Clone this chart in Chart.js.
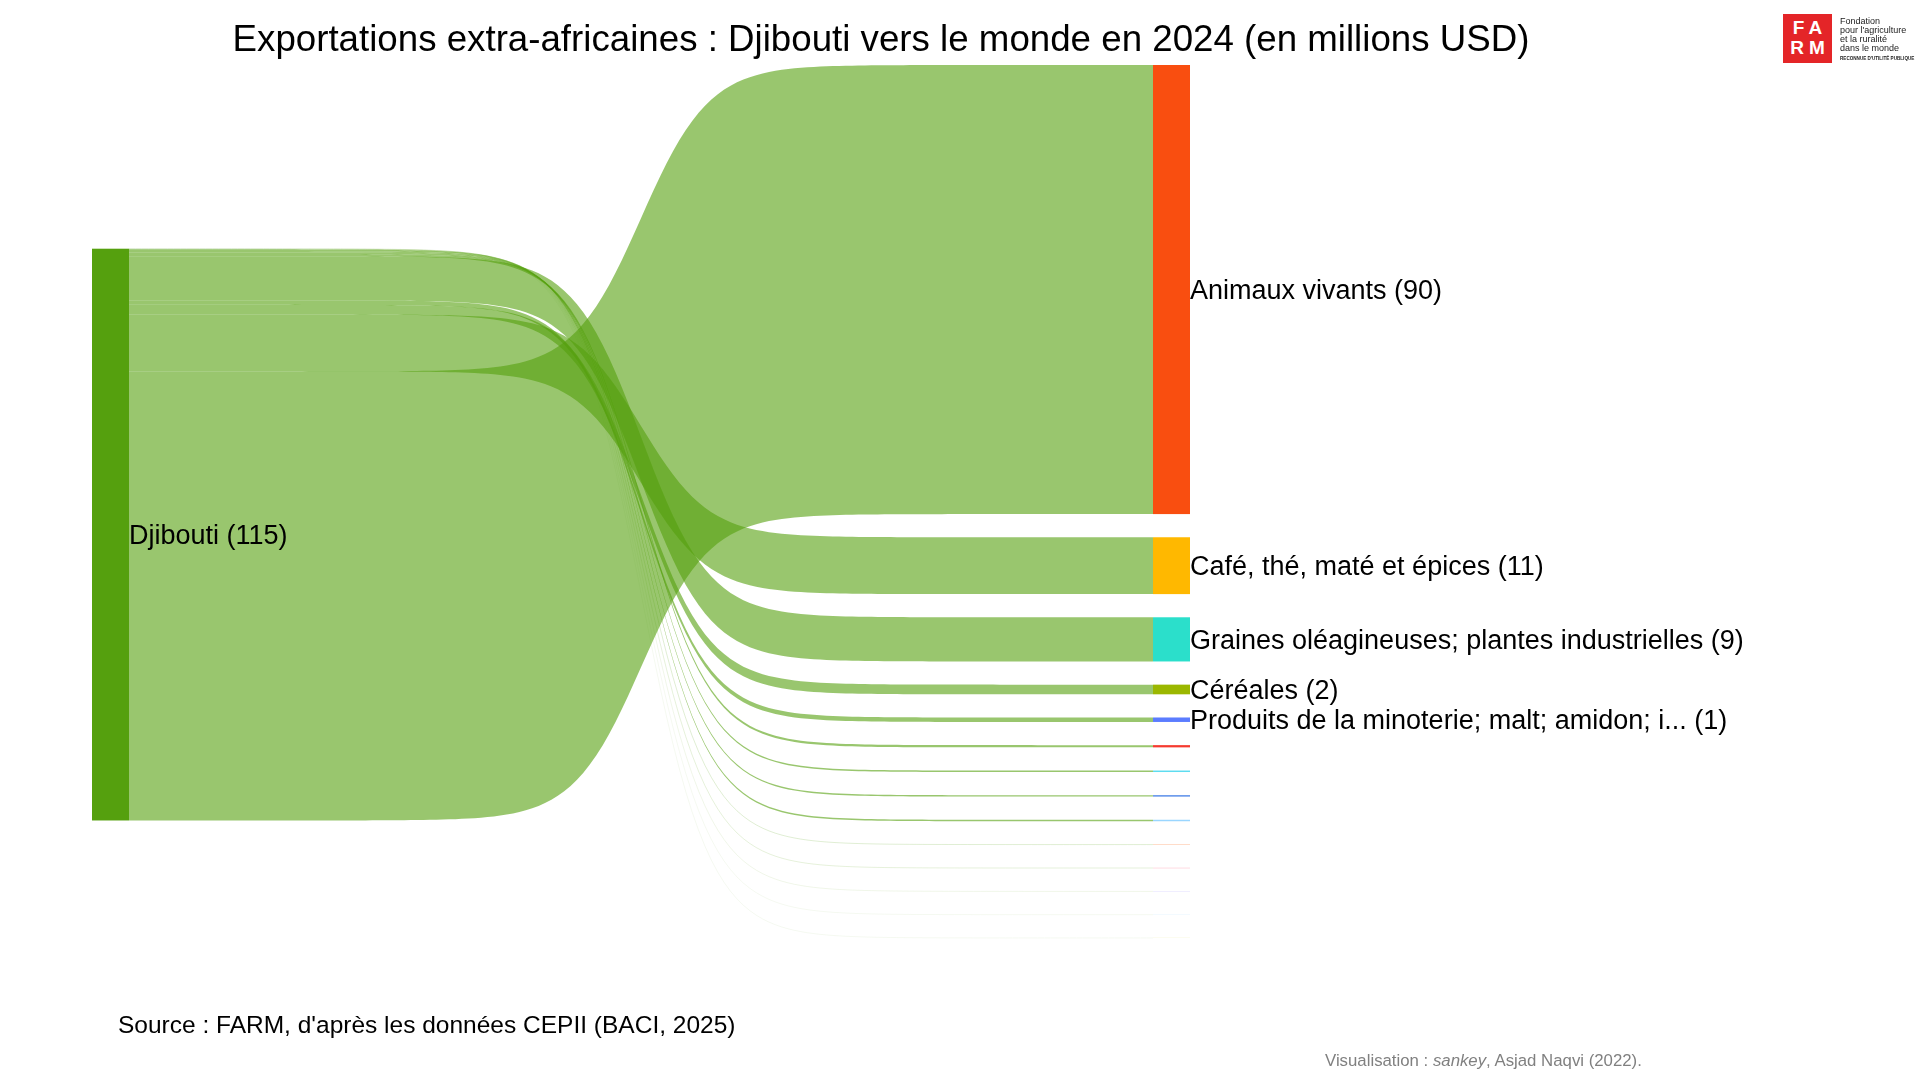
<!DOCTYPE html>
<html lang="fr">
<head>
<meta charset="utf-8">
<title>Exportations extra-africaines : Djibouti vers le monde en 2024</title>
<script src="https://cdn.jsdelivr.net/npm/chart.js@4.4.1/dist/chart.umd.min.js"></script>
<style>
  html, body { margin: 0; padding: 0; background: #fff; overflow: hidden; }
  #wrap { position: relative; width: 1920px; height: 1080px; font-family: "Liberation Sans", Arial, sans-serif; }
  #c { position: absolute; left: 0; top: 0; }
  .txt { position: absolute; white-space: nowrap; color: #000; line-height: 1; }
  #title  { left: 881px; top: 39px; transform: translate(-50%, -50%); font-size: 36.7px; }
  #source { left: 118px; top: 1025px; transform: translateY(-50%); font-size: 24.5px; }
  #credit { left: 1325px; top: 1061px; transform: translateY(-50%); font-size: 16.8px; color: #808080; }
  #logo { position: absolute; left: 1783px; top: 14px; width: 49px; height: 49px; background: #e42528; color: #fff;
          font-weight: bold; font-size: 19px; line-height: 20px; letter-spacing: 5px; text-align: center; padding-top: 4px; box-sizing: border-box; }
  #logo span { display: block; padding-left: 5px; }
  #logotxt { position: absolute; left: 1840px; top: 17px; font-size: 9px; line-height: 9px; color: #222; }
  #logotxt .small { font-size: 4.6px; font-weight: bold; line-height: 8px; }
</style>
</head>
<body>
<div id="wrap">
  <canvas id="c" width="1920" height="1080"></canvas>
  <div id="title" class="txt">Exportations extra-africaines : Djibouti vers le monde en 2024 (en millions USD)</div>
  <div id="source" class="txt">Source : FARM, d'après les données CEPII (BACI, 2025)</div>
  <div id="credit" class="txt">Visualisation : <i>sankey</i>, Asjad Naqvi (2022).</div>
  <div id="logo"><span>FA</span><span>RM</span></div>
  <div id="logotxt" class="txt">Fondation<br>pour l'agriculture<br>et la ruralité<br>dans le monde<br><span class="small">RECONNUE D'UTILITÉ PUBLIQUE</span></div>
</div>
<script>
// ── Data (millions USD) ─────────────────────────────────────────────────────
const origin = "Djibouti";
const originColor = "#55a00e";

// destinations, ordered as stacked on the right (largest first)
const destinations = [
  "Animaux vivants",
  "Café, thé, maté et épices",
  "Graines oléagineuses; plantes industrielles",
  "Céréales",
  "Produits de la minoterie; malt; amidon; inuline; gluten de froment",
  "Préparations alimentaires diverses",
  "Légumes",
  "Fruits",
  "Sucres et sucreries",
  "Boissons",
  "Poissons",
  "Viandes",
  "Lait et produits laitiers",
  "Graisses et huiles"
];
const exportValues = [90.45, 11.45, 8.9, 1.95, 0.9, 0.45, 0.3, 0.28, 0.3, 0.06, 0.05, 0.03, 0.02, 0.02];
const destColors = [
  "#f94e10", "#ffb800", "#2bdfcb", "#9bb700", "#5b7cff",
  "#f53b2f", "#5edcf0", "#4f86e8", "#9ad6ff", "#ff8a4a",
  "#ff6b8a", "#9a8cff", "#88ccff", "#e0e060"
];
// order in which the links leave the origin node, top to bottom
const originOrder = [13, 12, 11, 10, 9, 8, 7, 6, 5, 2, 4, 3, 1, 0];

// ── Layout constants ───────────────────────────────────────────────────────
const NODE_W = 0.0337;     // node width, share of x axis
const NODE_GAP = 4.667;    // vertical gap between right nodes (value units)
const LEFT_TOP = 37;       // offset of origin node from top (value units)
const CURVE_MID = 0.5;
const CURVE_K = 30;
const LINK_RGB = "85,160,14";
const LINK_ALPHA = 0.6;
const FONT = "'Liberation Sans', Arial, sans-serif";

const total = exportValues.reduce((a, b) => a + b, 0);
const yMax = total + NODE_GAP * (exportValues.length - 1);

function _label(name, v) {
  const s = name.length > 45 ? name.slice(0, 41) + "..." : name;
  return `${s} (${Math.round(v)})`;
}

// logistic easing between the two node columns
function _ease(t) {
  const f = u => 1 / (1 + Math.exp(-CURVE_K * (u - CURVE_MID)));
  const a = f(0), b = f(1);
  return (f(t) - a) / (b - a);
}

function _layout() {
  const right = [];
  let acc = 0;
  exportValues.forEach((v, i) => { right[i] = acc; acc += v + NODE_GAP; });
  const left = [];
  acc = LEFT_TOP;
  originOrder.forEach(i => { left[i] = acc; acc += exportValues[i]; });
  return { right, left };
}

const sankeyPlugin = {
  id: "sankey",
  afterDatasetsDraw(chart) {
    const { ctx, scales: { x, y } } = chart;
    const { right, left } = _layout();
    const xL = x.getPixelForValue(NODE_W);
    const xR = x.getPixelForValue(1 - NODE_W);
    const steps = 160;

    ctx.save();
    // links
    originOrder.forEach(i => {
      const v = exportValues[i];
      const l0 = left[i], r0 = right[i];
      const wPx = Math.abs(y.getPixelForValue(v) - y.getPixelForValue(0));
      const pt = (s, off) => {
        const t = s / steps, e = _ease(t);
        return [xL + (xR - xL) * t, y.getPixelForValue(l0 + off + (r0 - l0) * e)];
      };
      ctx.beginPath();
      if (wPx < 1) {
        // hairline links: stroke the centre line, faded by their width
        for (let s = 0; s <= steps; s++) {
          const [px, py] = pt(s, v / 2);
          s === 0 ? ctx.moveTo(px, py) : ctx.lineTo(px, py);
        }
        ctx.lineWidth = 1;
        ctx.strokeStyle = `rgba(${LINK_RGB},${(LINK_ALPHA * wPx).toFixed(3)})`;
        ctx.stroke();
        return;
      }
      for (let s = 0; s <= steps; s++) {
        const [px, py] = pt(s, 0);
        s === 0 ? ctx.moveTo(px, py) : ctx.lineTo(px, py);
      }
      for (let s = steps; s >= 0; s--) {
        const [px, py] = pt(s, v);
        ctx.lineTo(px, py);
      }
      ctx.closePath();
      ctx.fillStyle = `rgba(${LINK_RGB},${LINK_ALPHA})`;
      ctx.fill();
    });

    // origin node
    const x0 = x.getPixelForValue(0);
    const yTop = y.getPixelForValue(LEFT_TOP);
    const yBot = y.getPixelForValue(LEFT_TOP + total);
    ctx.fillStyle = originColor;
    ctx.fillRect(x0, yTop, xL - x0, yBot - yTop);

    // destination nodes
    const x1 = x.getPixelForValue(1);
    exportValues.forEach((v, i) => {
      const a = y.getPixelForValue(right[i]);
      const b = y.getPixelForValue(right[i] + v);
      ctx.fillStyle = destColors[i];
      ctx.fillRect(xR, a, x1 - xR, b - a);
    });

    // labels
    ctx.font = `27px ${FONT}`;
    ctx.fillStyle = "#000";
    ctx.textBaseline = "middle";
    ctx.textAlign = "left";
    ctx.fillText(`${origin} (${Math.round(total)})`, xL, (yTop + yBot) / 2 + 2);
    exportValues.forEach((v, i) => {
      if (Math.round(v) < 1) return;
      const c = y.getPixelForValue(right[i] + v / 2);
      ctx.fillText(_label(destinations[i], v), x1, c + 2);
    });
    ctx.restore();
  }
};

const { right: _r } = _layout();
new Chart(document.getElementById("c"), {
  type: "scatter",
  data: {
    datasets: [{
      label: "Destinations",
      data: exportValues.map((v, i) => ({ x: 1, y: _r[i] + v / 2 })),
      pointRadius: 0
    }]
  },
  options: {
    responsive: false,
    animation: false,
    devicePixelRatio: 1,
    layout: { padding: { left: 92, right: 730, top: 65, bottom: 142 } },
    plugins: { legend: { display: false }, tooltip: { enabled: false } },
    scales: {
      x: { type: "linear", min: 0, max: 1, display: false },
      y: { type: "linear", min: 0, max: yMax, reverse: true, display: false }
    }
  },
  plugins: [sankeyPlugin]
});
</script>
</body>
</html>
